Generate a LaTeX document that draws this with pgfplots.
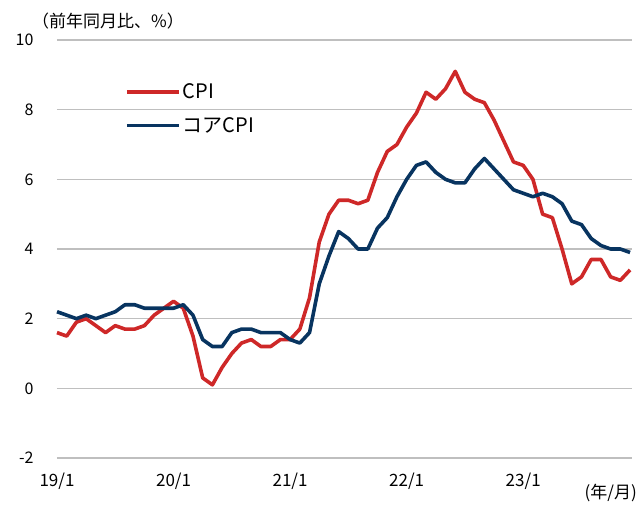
\documentclass[border=0pt]{standalone}
\usepackage{fontspec}
\setmainfont{Noto Sans CJK JP}
\usepackage{pgfplots}
\usepackage{pgfplotstable}
\pgfplotsset{compat=1.18}
\definecolor{cpired}{RGB}{206,40,40}
\definecolor{corenavy}{RGB}{8,52,96}
\definecolor{gridgray}{RGB}{191,191,191}
\pgfplotstableread{
x cpi core
0 1.6 2.2
1 1.5 2.1
2 1.9 2.0
3 2.0 2.1
4 1.8 2.0
5 1.6 2.1
6 1.8 2.2
7 1.7 2.4
8 1.7 2.4
9 1.8 2.3
10 2.1 2.3
11 2.3 2.3
12 2.5 2.3
13 2.3 2.4
14 1.5 2.1
15 0.3 1.4
16 0.1 1.2
17 0.6 1.2
18 1.0 1.6
19 1.3 1.7
20 1.4 1.7
21 1.2 1.6
22 1.2 1.6
23 1.4 1.6
24 1.4 1.4
25 1.7 1.3
26 2.6 1.6
27 4.2 3.0
28 5.0 3.8
29 5.4 4.5
30 5.4 4.3
31 5.3 4.0
32 5.4 4.0
33 6.2 4.6
34 6.8 4.9
35 7.0 5.5
36 7.5 6.0
37 7.9 6.4
38 8.5 6.5
39 8.3 6.2
40 8.6 6.0
41 9.1 5.9
42 8.5 5.9
43 8.3 6.3
44 8.2 6.6
45 7.7 6.3
46 7.1 6.0
47 6.5 5.7
48 6.4 5.6
49 6.0 5.5
50 5.0 5.6
51 4.9 5.5
52 4.0 5.3
53 3.0 4.8
54 3.2 4.7
55 3.7 4.3
56 3.7 4.1
57 3.2 4.0
58 3.1 4.0
59 3.4 3.9
}\data
\begin{document}
\begin{tikzpicture}
\begin{axis}[
  name=ax,
  scale only axis,
  width=575pt, height=418pt,
  xmin=0, xmax=59.2,
  ymin=-2, ymax=10,
  ytick={-2,0,2,4,6,8,10},
  xtick={0,12,24,36,48},
  xticklabels={19/1,20/1,21/1,22/1,23/1},
  ymajorgrids,
  major grid style={gridgray, line width=1.3pt},
  axis line style={draw=none},
  major tick length=0pt,
  tick label style={font=\fontsize{16}{19}\selectfont},
  xticklabel style={font=\fontsize{17}{20}\selectfont, anchor=north, yshift=-11pt},
  /pgf/number format/assume math mode=true,
  yticklabel style={anchor=east, xshift=-20pt},
  clip=false,
  legend style={at={(0.118,0.900)}, anchor=north west, draw=none, fill=none,
    font=\fontsize{20}{23}\selectfont, row sep=13pt, inner sep=0pt,
    cells={anchor=west}},
  legend image code/.code={\draw[#1] (0pt,0pt) -- (52pt,0pt);},
]
\addplot[cpired, line width=3.6pt, line join=round] table[x=x,y=cpi]{\data};
\addlegendentry{CPI}
\addplot[corenavy, line width=3.6pt, line join=round] table[x=x,y=core]{\data};
\addlegendentry{コアCPI}
\node[anchor=west, font=\fontsize{17}{20}\selectfont, inner sep=0pt] at ([xshift=-25pt, yshift=19pt]rel axis cs:0,1) {（前年同月比、\%）};
\node[anchor=east, font=\fontsize{17}{20}\selectfont, inner sep=0pt] at ([xshift=5pt, yshift=-35pt]rel axis cs:1,0) {(年/月)};
\end{axis}
\pgfresetboundingbox
\path ([xshift=-57pt,yshift=-46pt]ax.south west) rectangle ([xshift=7pt,yshift=40pt]ax.north east);
\end{tikzpicture}
\end{document}
